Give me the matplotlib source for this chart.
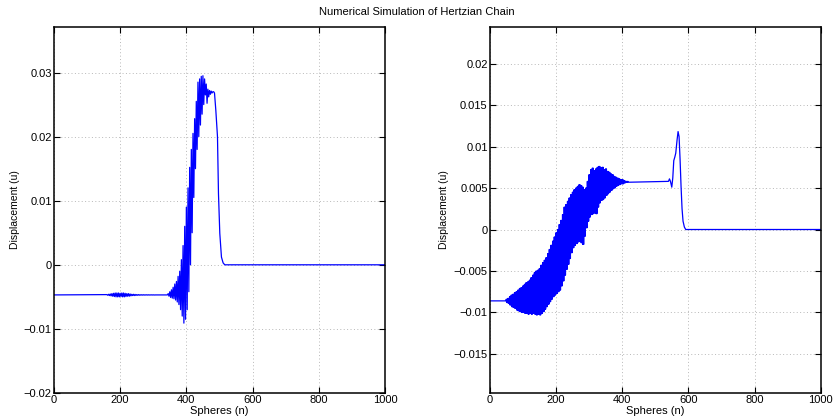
import numpy as np
import matplotlib
matplotlib.use("Agg")
from matplotlib import pyplot as plt
from matplotlib.ticker import FuncFormatter

# ---- left panel: displacement ----
left_base = -0.0047
# small wiggle on the baseline, n = 160..335 step 5 (half amplitude)
left_wig_n = list(range(160, 340, 5))
left_wig_amp = [0.00005, 0.0001, 0.00015, 0.0002, 0.00025, 0.0003, 0.0003, 0.0003,
                0.00025, 0.0003, 0.0003, 0.00025, 0.0002, 0.0002, 0.00015, 0.0001,
                0.0001, 0.00008, 0.00005, 0.00005, 0.00004, 0.00003, 0.00003, 0.00002,
                0.00002, 0.00002, 0.00001, 0.00001, 0.00001, 0.0, 0.0, 0.0,
                0.0, 0.0, 0.0, 0.0]
# oscillating front, n = 340..480 step 5
left_osc_n = list(range(340, 485, 5))
left_up = [-0.0047, -0.0045, -0.0042, -0.0039, -0.0035, -0.0030, -0.0026, -0.0018,
           -0.0010, 0.0008, 0.0030, 0.0060, 0.0090, 0.0120, 0.0152, 0.0180,
           0.0205, 0.0228, 0.0255, 0.0285, 0.0290, 0.0294, 0.0295, 0.0290,
           0.0282, 0.0274, 0.0272, 0.0271, 0.0270]
left_lo = [-0.0047, -0.0049, -0.0051, -0.0052, -0.0053, -0.0055, -0.0058, -0.0062,
           -0.0070, -0.0080, -0.0091, -0.0085, -0.0070, -0.0042, 0.0000, 0.0050,
           0.0105, 0.0150, 0.0180, 0.0200, 0.0218, 0.0235, 0.0250, 0.0265,
           0.0252, 0.0262, 0.0266, 0.0268, 0.0270]
# pulse tail
left_tail_n = [485, 489, 494, 497, 501, 506, 511, 516, 1000]
left_tail_u = [0.0268, 0.0241, 0.0200, 0.0111, 0.0049, 0.0012, 0.0003, 0.0, 0.0]

# ---- right panel ----
right_base = -0.0086
right_osc_n = list(range(45, 425, 5))
right_up = [-0.0086, -0.0084, -0.0083, -0.0081, -0.0079, -0.0078, -0.0076, -0.0075,
            -0.0073, -0.0071, -0.0070, -0.0068, -0.0066, -0.0064, -0.0063, -0.0061,
            -0.0058, -0.0055, -0.0052, -0.0050, -0.0049, -0.0047, -0.0043, -0.0040,
            -0.0037, -0.0034, -0.0029, -0.0024, -0.0019, -0.0014, -0.0009, -0.0004,
            0.0000, 0.0006, 0.0011, 0.0018, 0.0027, 0.0030, 0.0034, 0.0038,
            0.0042, 0.0045, 0.0048, 0.0050, 0.0052, 0.0054, 0.0053, 0.0051,
            0.0048, 0.0050, 0.0058, 0.0066, 0.0072, 0.0074, 0.0071, 0.0073,
            0.0075, 0.0076, 0.0074, 0.0075, 0.0072, 0.0073, 0.0070, 0.0069,
            0.0067, 0.0066, 0.0064, 0.0063, 0.0062, 0.0061, 0.0060, 0.0060,
            0.0059, 0.0058, 0.0058, 0.0057]
right_lo = [-0.0086, -0.0088, -0.0089, -0.0091, -0.0093, -0.0094, -0.0095, -0.0097,
            -0.0098, -0.0099, -0.0100, -0.0100, -0.0101, -0.0101, -0.0102, -0.0101,
            -0.0102, -0.0101, -0.0102, -0.0103, -0.0102, -0.0103, -0.0101, -0.0099,
            -0.0096, -0.0093, -0.0090, -0.0087, -0.0084, -0.0081, -0.0079, -0.0077,
            -0.0075, -0.0073, -0.0068, -0.0062, -0.0055, -0.0048, -0.0042, -0.0035,
            -0.0028, -0.0022, -0.0019, -0.0017, -0.0015, -0.0014, -0.0016, -0.0018,
            -0.0008, 0.0002, 0.0010, 0.0015, 0.0018, 0.0019, 0.0020, 0.0019,
            0.0027, 0.0032, 0.0035, 0.0036, 0.0038, 0.0041, 0.0043, 0.0045,
            0.0047, 0.0049, 0.0050, 0.0052, 0.0053, 0.0054, 0.0055, 0.0055,
            0.0056, 0.0057, 0.0057, 0.0057]
right_tail_n = [425, 540, 543, 546, 550, 553, 556, 559, 562, 566, 569, 572, 575,
                578, 581, 584, 588, 592, 1000]
right_tail_u = [0.0057, 0.0058, 0.0061, 0.0058, 0.0051, 0.0062, 0.0083, 0.0087,
                0.0092, 0.0108, 0.0118, 0.0112, 0.0085, 0.0052, 0.0025, 0.0010,
                0.0003, 0.0, 0.0]

left_yticks = [-0.02, -0.01, 0, 0.01, 0.02, 0.03]
right_yticks = [-0.015, -0.01, -0.005, 0, 0.005, 0.01, 0.015, 0.02]
xticks = [0, 200, 400, 600, 800, 1000]


def zigzag(n, up, lo, reps=1):
    # alternation between the read upper / lower envelopes
    step = 5.0 / reps
    n = np.repeat(np.asarray(n, float), reps)
    n += np.tile(np.arange(reps) * step, len(n) // reps)
    up = np.repeat(up, reps)
    lo = np.repeat(lo, reps)
    xs = np.empty(2 * len(n))
    ys = np.empty(2 * len(n))
    xs[0::2] = n
    xs[1::2] = n + step / 2
    ys[0::2] = up
    ys[1::2] = lo
    return xs, ys


# left series
wx, wy = zigzag(left_wig_n, left_base + np.array(left_wig_amp),
                left_base - np.array(left_wig_amp))
ox, oy = zigzag(left_osc_n, left_up, left_lo)
lx = np.concatenate([[0], wx, ox, left_tail_n])
ly = np.concatenate([[left_base], wy, oy, left_tail_u])

# right series
ox, oy = zigzag(right_osc_n, right_up, right_lo, reps=2)
rx = np.concatenate([[0], ox, right_tail_n])
ry = np.concatenate([[right_base], oy, right_tail_u])

plt.rcParams['font.family'] = ['Liberation Sans', 'DejaVu Sans']


def fmt(v, pos):
    if abs(v) < 1e-12:
        return "0"
    return ("%g" % v).replace("-", "\u2212")


fig = plt.figure(figsize=(8.34, 4.16), dpi=100)
ax1 = fig.add_axes([0.0647, 0.0553, 0.3969, 0.8798])
ax2 = fig.add_axes([0.5872, 0.0553, 0.3969, 0.8798])

for ax, x, y, yt, ylim in [(ax1, lx, ly, left_yticks, (-0.02, 0.0371)),
                           (ax2, rx, ry, right_yticks, (-0.0197, 0.0244))]:
    ax.plot(x, y, color=(0, 0, 1), lw=0.9)
    ax.set_xlim(0, 1000)
    ax.set_ylim(*ylim)
    ax.set_xticks(xticks)
    ax.set_yticks(yt)
    ax.yaxis.set_major_formatter(FuncFormatter(fmt))
    ax.grid(True, color='#b8b8b8', linestyle=(0, (1, 2.5)), linewidth=0.7)
    ax.tick_params(direction='in', top=True, right=True, length=4,
                   labelsize=8, pad=1.5, width=0.8)
    for s in ax.spines.values():
        s.set_linewidth(1.1)
    ax.set_xlabel('Spheres (n)', fontsize=8, labelpad=0)
    ax.xaxis.set_label_coords(0.5, -0.035)
    ax.set_ylabel('Displacement (u)', fontsize=7.5, labelpad=3)

fig.text(0.5, 0.972, 'Numerical Simulation of Hertzian Chain', ha='center',
         va='center', fontsize=8)

fig.savefig('out.png', dpi=100)
